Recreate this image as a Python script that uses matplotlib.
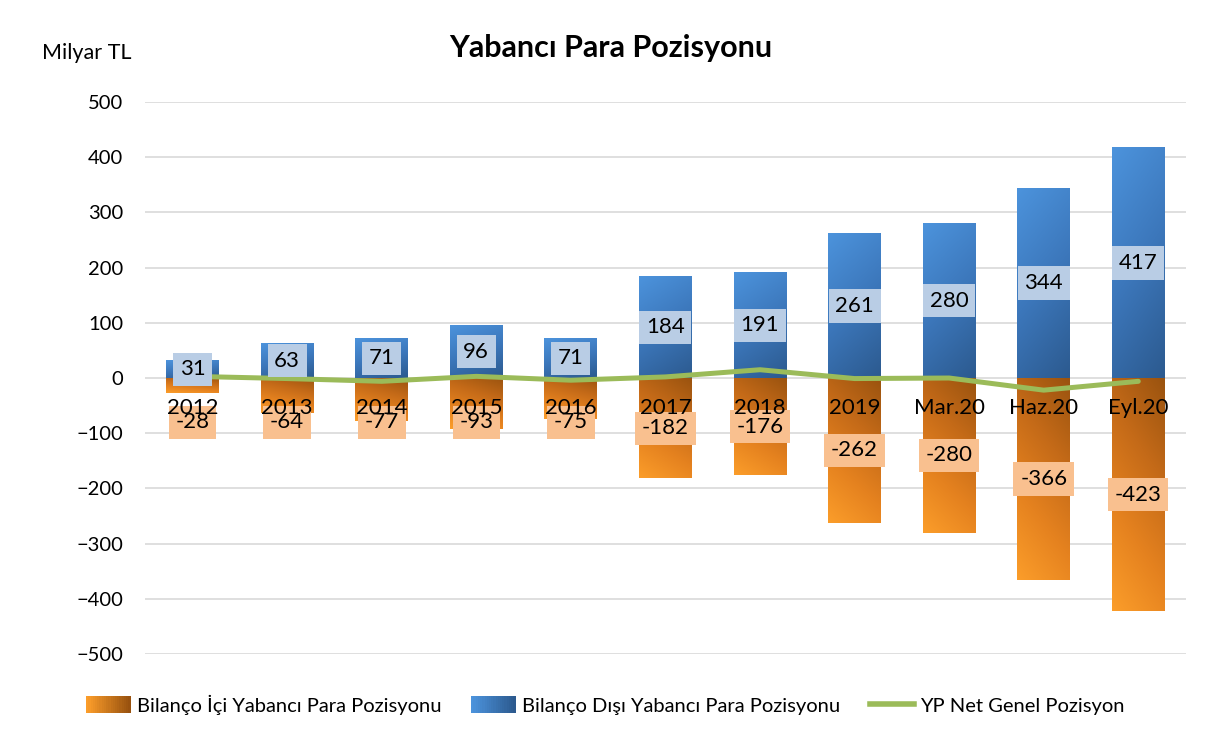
import numpy as np
import matplotlib.pyplot as plt
from matplotlib.patches import Rectangle
from matplotlib.legend_handler import HandlerBase
from matplotlib.colors import LinearSegmentedColormap
from matplotlib.lines import Line2D

plt.rcParams['font.family'] = ['Lato', 'DejaVu Sans']

# Veriler (milyar TL)
donemler = ['2012', '2013', '2014', '2015', '2016', '2017', '2018', '2019',
            'Mar.20', 'Haz.20', 'Eyl.20']
bilanco_ici = [-28, -64, -77, -93, -75, -182, -176, -262, -280, -366, -423]
bilanco_disi = [31, 63, 71, 96, 71, 184, 191, 261, 280, 344, 417]
net_pozisyon = [3, -1, -6, 3, -4, 2, 15, -1, 0, -22, -6]

turuncu = LinearSegmentedColormap.from_list('tr', ['#fb9d2a', '#e5821f', '#c46a18', '#9a530f'])
mavi = LinearSegmentedColormap.from_list('mv', ['#4c93dc', '#3c77bb', '#2c5a8f'])


def gradyan_bar(ax, x, w, y0, y1, cmap, ters=False):
    # kose kose degisen renk: sol-alt acik, sag-ust koyu (turuncu)
    gx, gy = np.meshgrid(np.linspace(0, 1, 40), np.linspace(0, 1, 120))
    g = 0.25 * gx + 0.75 * gy
    if ters:
        g = 0.25 * gx + 0.75 * (1 - gy)
    ax.imshow(g, extent=[x - w / 2, x + w / 2, y0, y1], origin='lower',
              cmap=cmap, vmin=0, vmax=1, aspect='auto', zorder=2,
              interpolation='bilinear')


class GradyanHandler(HandlerBase):
    def __init__(self, cmap):
        super().__init__()
        self.cmap = cmap

    def create_artists(self, legend, orig_handle, xdescent, ydescent,
                       width, height, fontsize, trans):
        parcalar = []
        n = 20
        for i in range(n):
            r = Rectangle((xdescent + width * i / n, -ydescent), width / n + 0.3, height,
                          facecolor=self.cmap(i / (n - 1)), edgecolor='none',
                          transform=trans)
            parcalar.append(r)
        return parcalar


fig = plt.figure(figsize=(12.11, 7.34), dpi=100)
ax = fig.add_axes([0.12, 0.109, 0.859, 0.752])

x = np.arange(len(donemler))
w = 0.56
for i in range(len(donemler)):
    gradyan_bar(ax, x[i], w, bilanco_ici[i], 0, turuncu)
    gradyan_bar(ax, x[i], w, 0, bilanco_disi[i], mavi, ters=True)

ax.plot(x, net_pozisyon, color='#9bbb59', lw=3.6, zorder=4, solid_capstyle='round')

for i in range(len(donemler)):
    ax.text(x[i], bilanco_disi[i] / 2, str(bilanco_disi[i]), ha='center', va='center',
            fontsize=16, zorder=5,
            bbox=dict(boxstyle='square,pad=0.3', facecolor='#b9cde5', edgecolor='none'))
    yy = min(bilanco_ici[i] / 2, -80)
    ax.text(x[i], yy, str(bilanco_ici[i]), ha='center', va='center',
            fontsize=16, zorder=5,
            bbox=dict(boxstyle='square,pad=0.3', facecolor='#f9c08f', edgecolor='none'))
    ax.text(x[i], -55, donemler[i], ha='center', va='center', fontsize=16, zorder=6)

ax.set_xlim(-0.5, len(donemler) - 0.5)
ax.set_ylim(-500, 500)
ax.set_yticks(range(-500, 501, 100))
ax.set_xticks([])
ax.tick_params(axis='y', length=0, pad=16, labelsize=14.5)
ax.grid(axis='y', color='#d9d9d9', lw=1.2, zorder=0)
ax.set_axisbelow(True)
for s in ax.spines.values():
    s.set_visible(False)

fig.text(0.035, 0.928, 'Milyar TL', fontsize=15.5, ha='left', va='center')
fig.text(0.504, 0.935, 'Yabancı Para Pozisyonu', fontsize=22, fontweight='bold',
         ha='center', va='center')

h1 = Rectangle((0, 0), 1, 1)
h2 = Rectangle((0, 0), 1, 1)
h3 = Line2D([0], [0], color='#9bbb59', lw=4)
ters_turuncu = LinearSegmentedColormap.from_list('tt', ['#fb9d2a', '#99520f'])
ters_mavi = LinearSegmentedColormap.from_list('tm', ['#4c93dc', '#2c5a8f'])
fig.legend([h1, h2, h3],
           ['Bilanço İçi Yabancı Para Pozisyonu', 'Bilanço Dışı Yabancı Para Pozisyonu',
            'YP Net Genel Pozisyon'],
           handler_map={h1: GradyanHandler(ters_turuncu), h2: GradyanHandler(ters_mavi)},
           loc='center', bbox_to_anchor=(0.5, 0.04), ncol=3, frameon=False,
           fontsize=14.5, handlelength=2.2, handleheight=0.9, handletextpad=0.3,
           columnspacing=1.5)

fig.savefig('out.png', dpi=100)
